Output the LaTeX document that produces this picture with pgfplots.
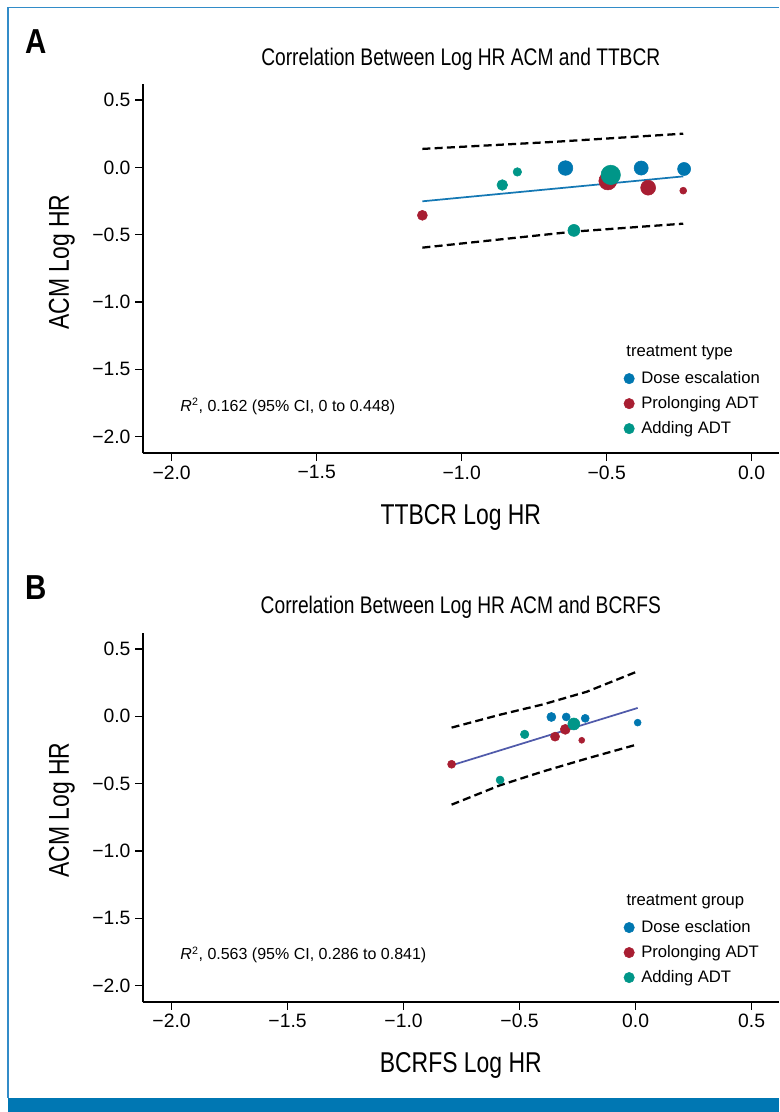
\documentclass[border=0pt]{standalone}
\usepackage{pgfplots}
\usepackage{pgfplotstable}
\pgfplotsset{compat=1.18}
\usepackage{fontspec}
\setmainfont{Liberation Sans}
\newfontfamily\cond[FakeStretch=0.8]{Liberation Sans}
\newfontfamily\panelf[FakeStretch=0.85]{Liberation Sans}

\definecolor{cblue}{RGB}{0,119,176}
\definecolor{cred}{RGB}{168,30,50}
\definecolor{cteal}{RGB}{0,150,136}
\definecolor{lineA}{RGB}{20,120,180}
\definecolor{lineB}{RGB}{80,90,170}
\definecolor{framec}{RGB}{50,140,200}
\definecolor{barc}{RGB}{0,119,179}

% panel A: x y r(pt)
\pgfplotstableread{
x y r
-0.642 -0.005 5.5
-0.381 -0.005 5.3
-0.233 -0.012 4.9
}\Ablue
\pgfplotstableread{
x y r
-1.1355 -0.356 3.75
-0.496 -0.101 6.75
-0.357 -0.151 5.6
-0.236 -0.173 2.6
}\Ared
\pgfplotstableread{
x y r
-0.860 -0.131 4.0
-0.808 -0.034 3.2
-0.613 -0.468 4.5
-0.486 -0.056 7.3
}\Ateal
% panel B
\pgfplotstableread{
x y r
-0.363 -0.005 3.4
-0.299 -0.005 3.0
-0.217 -0.015 3.0
0.009 -0.047 2.6
}\Bblue
\pgfplotstableread{
x y r
-0.793 -0.356 3.0
-0.347 -0.151 3.4
-0.303 -0.097 3.75
-0.232 -0.178 2.25
}\Bred
\pgfplotstableread{
x y r
-0.584 -0.473 3.0
-0.478 -0.134 3.2
-0.266 -0.057 4.5
}\Bteal

\pgfplotsset{
  panel/.style={
    scale only axis, width=477.2pt, height=277pt,
    axis lines=left, axis line style={-, line width=1.3pt},
    tick align=outside, major tick length=5.6pt,
    tick style={black, line width=0.9pt},
    ymin=-2.123, ymax=0.619,
    ytick={-2,-1.5,-1,-0.5,0,0.5},
    yticklabels={−2.0,−1.5,−1.0,−0.5,0.0,0.5},
    tick label style={font=\fontsize{14.5}{16}\selectfont},
    label style={font=\cond\fontsize{21.5}{24}\selectfont},
    title style={font=\cond\fontsize{18}{20}\selectfont, anchor=center},
    legend cell align=left,
    legend style={at={(axis description cs:0.756,0.221)}, anchor=north west,
      draw=none, fill=none, inner sep=0pt, outer sep=0pt, row sep=6.75pt,
      font=\fontsize{12.5}{14}\selectfont,
      nodes={inner sep=0pt, text height=9pt, text depth=3pt},
      /tikz/every odd column/.append style={column sep=5pt}},
  },
  pts/.style={scatter, only marks, mark=*, forget plot,
    point meta=explicit symbolic,
    scatter/@pre marker code/.code={\scope[mark size=\pgfplotspointmeta, color=#1]},
    scatter/@post marker code/.code={\endscope}},
  ci/.style={black, line width=1.7pt, dash pattern=on 6pt off 3.2pt, forget plot},
}

\begin{document}
\begin{tikzpicture}
\path[use as bounding box, fill=white] (0pt,0pt) rectangle (584.25pt,834pt);
\fill[barc] (6pt,0pt) rectangle (584.25pt,10.5pt);
\draw[framec, line width=0.8pt] (6pt,10.5pt) -- (6pt,828.4pt) -- (584.25pt,828.4pt);

\node[font=\panelf\bfseries\fontsize{26}{28}\selectfont] at (27pt,802.5pt) {A};
\node[font=\panelf\bfseries\fontsize{26}{28}\selectfont] at (27pt,393pt) {B};

\begin{axis}[panel, at={(107.0pt,494.0pt)}, anchor=south west,
  xmin=-2.1, xmax=0.094,
  xtick={-2,-1.5,-1,-0.5,0},
  xticklabels={−2.0,−1.5,−1.0,−0.5,0.0},
  title={Correlation Between Log HR ACM and TTBCR},
  title style={at={(axis description cs:0.5,1.046)}},
  xlabel={TTBCR Log HR},
  xlabel style={at={(axis description cs:0.5,-0.175)}, anchor=center},
  ylabel={ACM Log HR},
  ylabel style={at={(axis description cs:-0.127,0.518)}, anchor=center},
]
\addplot[pts=cblue] table[x=x,y=y,meta=r] {\Ablue};
\addplot[pts=cred] table[x=x,y=y,meta=r] {\Ared};
\addplot[pts=cteal] table[x=x,y=y,meta=r] {\Ateal};
\addplot[lineA, line width=1.3pt, forget plot] coordinates {(-1.1355,-0.252) (-0.236,-0.067)};
\addplot[ci] coordinates {(-1.1355,0.137) (-0.684,0.189) (-0.236,0.250)};
\addplot[ci] coordinates {(-1.1355,-0.596) (-0.613,-0.477) (-0.236,-0.418)};
\addlegendimage{legend image code/.code={\fill[cblue] (0pt,0.8pt) circle (3.9pt);}}
\addlegendentry{Dose escalation}
\addlegendimage{legend image code/.code={\fill[cred] (0pt,0.8pt) circle (3.9pt);}}
\addlegendentry{Prolonging ADT}
\addlegendimage{legend image code/.code={\fill[cteal] (0pt,0.8pt) circle (3.9pt);}}
\addlegendentry{Adding ADT}
\node[anchor=west, font=\fontsize{12.5}{14}\selectfont] at (axis description cs:0.753,0.2716) {treatment type};
\node[anchor=west, font=\fontsize{12}{14}\selectfont] at (axis description cs:0.052,0.128) {\textit{R}\textsuperscript{2}, 0.162 (95\% CI, 0 to 0.448)};
\end{axis}

\begin{axis}[panel, at={(107.0pt,82.3pt)}, anchor=south west,
  xmin=-2.1246, xmax=0.618,
  xtick={-2,-1.5,-1,-0.5,0,0.5},
  xticklabels={−2.0,−1.5,−1.0,−0.5,0.0,0.5},
  title={Correlation Between Log HR ACM and BCRFS},
  title style={at={(axis description cs:0.5,1.048)}},
  xlabel={BCRFS Log HR},
  xlabel style={at={(axis description cs:0.5,-0.172)}, anchor=center},
  ylabel={ACM Log HR},
  ylabel style={at={(axis description cs:-0.127,0.52)}, anchor=center},
]
\addplot[pts=cblue] table[x=x,y=y,meta=r] {\Bblue};
\addplot[pts=cred] table[x=x,y=y,meta=r] {\Bred};
\addplot[pts=cteal] table[x=x,y=y,meta=r] {\Bteal};
\addplot[lineB, line width=1.3pt, forget plot] coordinates {(-0.793,-0.364) (0.009,0.062)};
\addplot[ci] coordinates {(-0.793,-0.084) (-0.584,0.012) (-0.40,0.088) (-0.211,0.182) (0.009,0.334)};
\addplot[ci] coordinates {(-0.793,-0.656) (-0.584,-0.512) (-0.40,-0.41) (-0.211,-0.314) (0.009,-0.208)};
\addlegendimage{legend image code/.code={\fill[cblue] (0pt,0.8pt) circle (3.9pt);}}
\addlegendentry{Dose esclation}
\addlegendimage{legend image code/.code={\fill[cred] (0pt,0.8pt) circle (3.9pt);}}
\addlegendentry{Prolonging ADT}
\addlegendimage{legend image code/.code={\fill[cteal] (0pt,0.8pt) circle (3.9pt);}}
\addlegendentry{Adding ADT}
\node[anchor=west, font=\fontsize{12.5}{14}\selectfont] at (axis description cs:0.753,0.271) {treatment group};
\node[anchor=west, font=\fontsize{12}{14}\selectfont] at (axis description cs:0.052,0.128) {\textit{R}\textsuperscript{2}, 0.563 (95\% CI, 0.286 to 0.841)};
\end{axis}
\end{tikzpicture}
\end{document}
